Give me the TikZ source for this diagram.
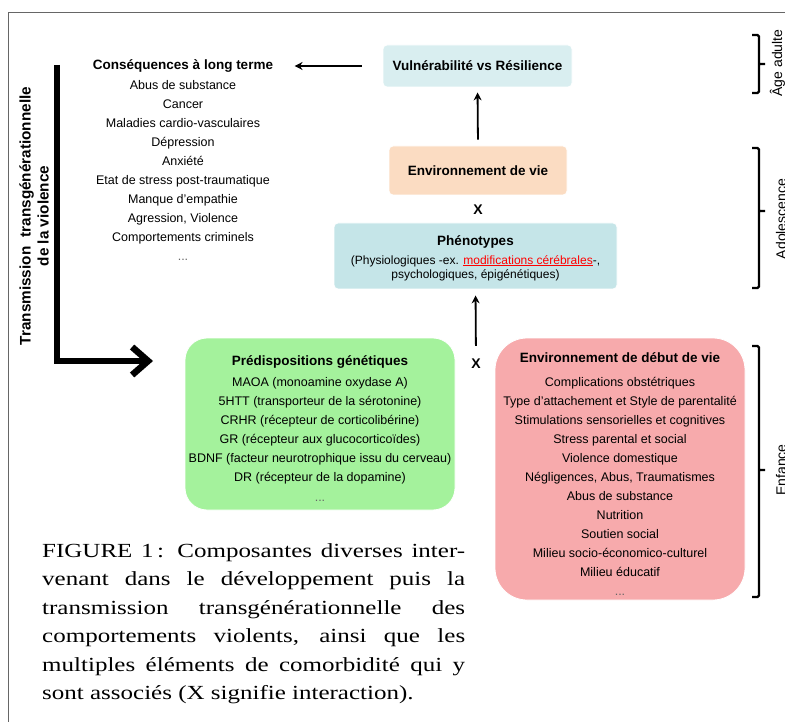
\documentclass[tikz,border=0pt]{standalone}
\usepackage{fontspec}
\setmainfont{Liberation Sans}
\newfontfamily\figcapfont[FakeStretch=1.25]{Liberation Serif}
\usetikzlibrary{arrows.meta}

\definecolor{vulnblue}{HTML}{D9EEF0}
\definecolor{envpeach}{HTML}{FBDCC2}
\definecolor{phenoblue}{HTML}{C5E5E8}
\definecolor{genegreen}{HTML}{A4F29C}
\definecolor{earlypink}{HTML}{F7AAAC}

\newcommand{\bodysize}{\fontsize{12.5}{19}\selectfont\mdseries}
\newcommand{\titlesize}{\fontsize{13.5}{19}\selectfont\bfseries}

\begin{document}
\begin{tikzpicture}[x=1pt, y=-1pt,
    box/.style={rounded corners=4pt, align=center, inner sep=0pt, draw=white, line width=0.8pt},
    arr/.style={line width=1.8pt, -{Stealth[length=8pt,width=8pt]}},
    bracket/.style={line width=2.2pt, rounded corners=1.5pt},
    agelabel/.style={rotate=90, anchor=base, font=\fontsize{14}{16}\selectfont}]
                % Page size and frame
                \useasboundingbox (0,0) rectangle (785,722);
                \draw[black!60, line width=1pt] (8,722) -- (8,13) -- (785,13);

                % Top row: consequences and vulnerability
                \node[anchor=base, font=\titlesize] (constitle) at (183,70) {Conséquences à long terme};
                \node[align=center, inner sep=0pt, font=\bodysize] (conslist) at (183,170.5)
                    {Abus de substance\\Cancer\\Maladies cardio-vasculaires\\Dépression\\Anxiété\\
                     Etat de stress post-traumatique\\Manque d’empathie\\Agression, Violence\\
                     Comportements criminels\\\textcolor{black!60}{...}};
                \node[box, fill=vulnblue, minimum width=189pt, minimum height=42pt, font=\titlesize]
                    (vuln) at (477.5,66) {Vulnérabilité vs Résilience};
                \draw[arr, shorten <=21pt, shorten >=18pt] (vuln.west) -- (constitle.east |- vuln.west);

                % Adolescence: environment x phenotypes
                \node[box, fill=envpeach, minimum width=178pt, minimum height=49pt, font=\titlesize]
                    (envvie) at (478,170.5) {Environnement de vie};
                \draw[arr, shorten <=6pt, shorten >=5pt] (envvie.north) -- (vuln.south);
                \node[font=\fontsize{14}{16}\selectfont\bfseries, inner sep=0pt] (xtop) at (478,210) {X};
                \node[box, fill=phenoblue, minimum width=283pt, minimum height=66pt,
                    font=\fontsize{12}{14.5}\selectfont] (pheno) at (475.5,256)
                    {{\titlesize\rule{0pt}{14pt}Phénotypes}\\[4.5pt]
                     (Physiologiques -ex. \textcolor{red}{\underline{modifications cérébrales}}-,\\
                     psychologiques, épigénétiques)};

                % Childhood: genes x early environment
                \node[box, fill=genegreen, rounded corners=22pt, minimum width=270pt, minimum height=172pt,
                    font=\bodysize] (genet) at (320,424)
                    {{\titlesize\rule{0pt}{18pt}Prédispositions génétiques}\\[2pt]
                     MAOA (monoamine oxydase A)\\5HTT (transporteur de la sérotonine)\\
                     CRHR (récepteur de corticolibérine)\\GR (récepteur aux glucocorticoïdes)\\
                     BDNF (facteur neurotrophique issu du cerveau)\\DR (récepteur de la dopamine)\\[1pt]
                     \textcolor{black!60}{...}};
                \node[box, fill=earlypink, rounded corners=32pt, minimum width=250pt, minimum height=262pt,
                    font=\bodysize] (early) at (620,469)
                    {{\titlesize\rule{0pt}{19pt}Environnement de début de vie}\\[5pt]
                     Complications obstétriques\\Type d’attachement et Style de parentalité\\
                     Stimulations sensorielles et cognitives\\Stress parental et social\\Violence domestique\\
                     Négligences, Abus, Traumatismes\\Abus de substance\\Nutrition\\Soutien social\\
                     Milieu socio-économico-culturel\\Milieu éducatif\\\textcolor{black!60}{...}};
                \node[font=\fontsize{14}{16}\selectfont\bfseries, inner sep=0pt] (xlow) at (476,364) {X};
                \draw[arr, shorten <=13pt, shorten >=6pt] (xlow.north) -- (pheno.south);

                % Transmission arrow
                \coordinate (ltop) at (57,65);
                \coordinate (ltip) at (153,361);
                \draw[line width=6.5pt, -{Straight Barb[length=16pt,width=28pt]}] (ltop) |- (ltip);
                \node[rotate=90, align=center, inner sep=0pt, font=\fontsize{15.3}{18}\selectfont\bfseries]
                    (transm) at (34,216) {Transmission\hspace{5pt} transgénérationnelle\\de la violence};

                % Age brackets
                \draw[bracket] (752,35) -- (759,35) -- (759,93) -- (752,93) (759,64) -- (765,64);
                \draw[bracket] (752,148) -- (759,148) -- (759,288) -- (752,288) (759,211) -- (765,211);
                \draw[bracket] (752,346) -- (759,346) -- (759,597) -- (752,597) (759,470) -- (765,470);
                \node[agelabel] (adult) at (782,63) {Âge adulte};
                \node[agelabel] (ado) at (786,219) {Adolescence};
                \node[agelabel] (child) at (786,470) {Enfance};

                % Caption
                \node[anchor=base west, inner sep=0pt] (caption) at (42,557)
                    {\begin{minipage}[t]{423pt}\figcapfont\fontsize{20}{28.5}\selectfont
                     FIGURE 1\,: Composantes diverses inter-\linebreak venant dans le développement puis la\linebreak
                     transmission transgénérationnelle des\linebreak comportements violents, ainsi que les\linebreak
                     multiples éléments de comorbidité qui y\linebreak sont associés (X signifie interaction).
                     \end{minipage}};
\end{tikzpicture}
\end{document}
